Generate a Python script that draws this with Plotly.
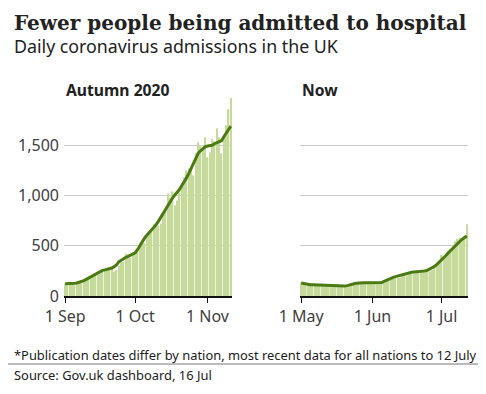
import pandas as pd
import plotly.graph_objects as go

# ---- data ----
autumn_dates = pd.date_range("2020-09-01", "2020-11-11", freq="D")
autumn_daily = [
    125, 130, 128, 120, 118, 135, 140,
    150, 160, 165, 170, 175, 190, 200,
    210, 225, 240, 250, 255, 265, 270,
    245, 260, 300, 360, 340, 420, 415,
    380, 430, 440, 450, 520, 520, 530,
    600, 620, 650, 720, 700, 700, 720,
    820, 860, 1020, 980, 1040, 900, 950,
    1080, 1090, 1180, 1250, 1270, 1280, 1200,
    1420, 1530, 1490, 1480, 1580, 1380, 1430,
    1560, 1540, 1670, 1580, 1420, 1600, 1700,
    1860, 1970,
]
autumn_avg = [
    123, 122, 122, 123, 126, 130, 136, 143, 152, 165,
    178, 190, 203, 215, 230, 245, 255, 260, 264, 268,
    278, 292, 310, 340, 358, 370, 385, 395, 405, 415,
    430, 460, 500, 540, 575, 605, 630, 650, 680, 710,
    745, 785, 825, 860, 895, 935, 975, 1005, 1030, 1060,
    1100, 1135, 1175, 1220, 1270, 1320, 1370, 1420, 1445, 1465,
    1485, 1492, 1495, 1500, 1515, 1525, 1530, 1545, 1585, 1625,
    1660, 1690,
]

now_dates = pd.date_range("2021-05-01", "2021-07-12", freq="D")
now_daily = [
    135, 120, 110, 115, 118, 112, 110,
    108, 115, 112, 110, 105, 108, 112,
    100, 98, 95, 92, 96, 100, 105,
    110, 118, 125, 132, 135, 130, 128,
    135, 130, 128, 132, 140, 135, 130,
    128, 132, 145, 160, 165, 170, 175,
    180, 185, 200, 210, 205, 215, 220,
    225, 230, 235, 240, 245, 270, 250,
    245, 260, 290, 300, 340, 410, 380,
    420, 450, 470, 500, 545, 570, 580,
    560, 600, 715,
]
now_avg = [
    130, 125, 118, 114, 112, 112, 111, 111, 111, 110,
    110, 110, 109, 106, 103, 100, 98, 97, 98, 100,
    103, 107, 115, 122, 128, 132, 133, 133, 133, 133,
    133, 132, 132, 132, 132, 134, 145, 157, 168, 178,
    186, 193, 200, 207, 213, 220, 226, 232, 236, 238,
    239, 240, 241, 243, 250, 257, 268, 280, 295, 315,
    335, 357, 380, 405, 430, 455, 480, 505, 525, 545,
    565, 582, 597,
]

y_ticks = [0, 500, 1000, 1500]
y_tick_text = ["0", "500", "1,000", "1,500"]
autumn_ticks = ["2020-09-01", "2020-10-01", "2020-11-01"]
autumn_tick_text = ["1 Sep", "1 Oct", "1 Nov"]
now_ticks = ["2021-05-01", "2021-06-01", "2021-07-01"]
now_tick_text = ["1 May", "1 Jun", "1 Jul"]

BAR = "#c6da9c"
LINE = "#4a7a12"
OFF = 8                      # page body margin
W, H = 486 - OFF, 394 - OFF  # figure size so page fills the window


def fx(px):
    return (px - OFF) / W


def fy(py):
    return 1 - (py - OFF) / H


fig = go.Figure()
fig.add_trace(go.Bar(x=autumn_dates, y=autumn_daily, marker_color=BAR,
                     marker_line_width=0, xaxis="x", yaxis="y", showlegend=False))
fig.add_trace(go.Scatter(x=autumn_dates, y=autumn_avg, mode="lines",
                         line=dict(color=LINE, width=3), xaxis="x", yaxis="y",
                         showlegend=False))
fig.add_trace(go.Bar(x=now_dates, y=now_daily, marker_color=BAR,
                     marker_line_width=0, xaxis="x2", yaxis="y2", showlegend=False))
fig.add_trace(go.Scatter(x=now_dates, y=now_avg, mode="lines",
                         line=dict(color=LINE, width=3), xaxis="x2", yaxis="y2",
                         showlegend=False))

ydom = [fy(296), fy(95)]
tickfont = dict(family="Noto Sans", size=16, color="#404040")

common_x = dict(showgrid=False, showline=True, linecolor="#111", linewidth=1.5,
                ticks="outside", ticklen=5, tickcolor="#111", tickwidth=1,
                tickfont=tickfont, zeroline=False, fixedrange=True,
                automargin=False)
common_y = dict(range=[0, 2000], tickvals=y_ticks, showgrid=True,
                gridcolor="#cccccc", gridwidth=1, zeroline=False,
                showline=False, fixedrange=True, automargin=False)

fig.update_layout(
    width=W, height=H,
    margin=dict(l=0, r=0, t=0, b=0, autoexpand=False),
    paper_bgcolor="white", plot_bgcolor="white",
    bargap=0.3,
    xaxis=dict(domain=[fx(64), fx(232)],
               range=["2020-08-31 12:00", "2020-11-11 12:00"],
               tickvals=autumn_ticks, ticktext=autumn_tick_text, anchor="y",
               **common_x),
    yaxis=dict(domain=ydom, ticktext=y_tick_text, tickfont=tickfont,
               ticklabelstandoff=4, anchor="x", **common_y),
    xaxis2=dict(domain=[fx(300), fx(468)],
                range=["2021-04-30 12:00", "2021-07-12 12:00"],
                tickvals=now_ticks, ticktext=now_tick_text, anchor="y2",
                **common_x),
    yaxis2=dict(domain=ydom, showticklabels=False, anchor="x2", **common_y),
)

ann = [
    dict(text="<b>Fewer people being admitted to hospital</b>", x=fx(12), y=fy(23),
         font=dict(family="DejaVu Serif", size=20, color="#222222")),
    dict(text="Daily coronavirus admissions in the UK", x=fx(12), y=fy(46),
         font=dict(family="Noto Sans", size=17.8, color="#222222")),
    dict(text="<b>Autumn 2020</b>", x=fx(64), y=fy(90),
         font=dict(family="Noto Sans", size=15.7, color="#222222")),
    dict(text="<b>Now</b>", x=fx(300), y=fy(90),
         font=dict(family="Noto Sans", size=15.7, color="#222222")),
    dict(text="*Publication dates differ by nation, most recent data for all nations to 12 July",
         x=fx(12), y=fy(355), font=dict(family="Noto Sans", size=12.9, color="#222222")),
    dict(text="Source: Gov.uk dashboard, 16 Jul", x=fx(12), y=fy(375),
         font=dict(family="Noto Sans", size=12.9, color="#222222")),
]
for a in ann:
    fig.add_annotation(xref="paper", yref="paper", xanchor="left", yanchor="middle",
                       showarrow=False, **a)

fig.add_shape(type="line", xref="paper", yref="paper", x0=fx(5), x1=1,
              y0=fy(364), y1=fy(364), line=dict(color="#777777", width=1))

fig.write_html("out.html")
